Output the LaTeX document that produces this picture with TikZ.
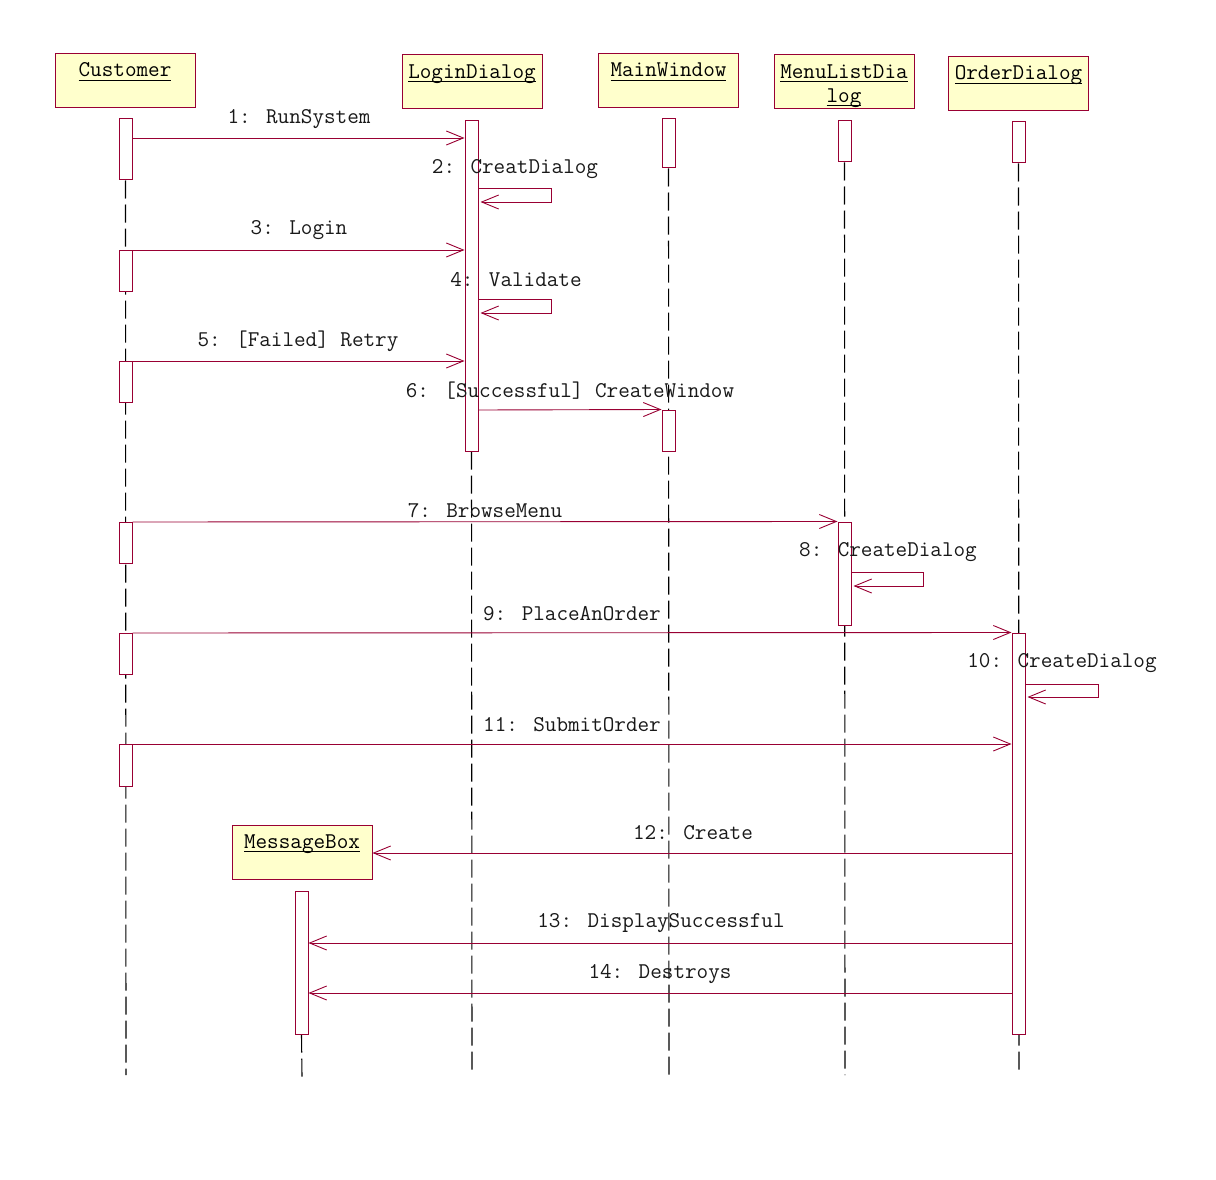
\documentclass[tikz,border=0pt]{standalone}
\usepackage{fontspec}
\usetikzlibrary{arrows.meta}
\definecolor{mred}{RGB}{153,0,51}
\definecolor{ybg}{HTML}{FFFFCC}
\definecolor{txt}{RGB}{25,25,25}
\newcommand\ulx[1]{\setbox0=\hbox{#1}\rlap{\rule[-3.5pt]{\wd0}{0.9pt}}\box0}
\newcommand\Act[4]{\node[act, minimum height={(#4-#3)*1pt}] (#1) at (#2,{(#3+#4)/2}) {};}
\begin{document}
\begin{tikzpicture}[x=1pt,y=-1pt,
  obj/.style={rectangle, draw=mred, fill=ybg, line width=1pt, minimum width=140pt, minimum height=54pt, inner sep=0pt},
  act/.style={rectangle, draw=mred, fill=white, line width=1pt, minimum width=13pt, inner sep=0pt},
  hdr/.style={anchor=base, inner sep=0pt, font=\ttfamily\fontsize{22.5pt}{26pt}\selectfont, text=black},
  lbl/.style={inner sep=0pt, font=\ttfamily\fontsize{22.5pt}{26pt}\selectfont, text=txt},
  life/.style={draw=black, line width=1.1pt, dash pattern=on 18pt off 6pt},
  msg/.style={draw=mred, line width=0.9pt, -{Straight Barb[length=17pt,width=14pt,line width=0.9pt]}}
]
\useasboundingbox[fill=white] (0,0) rectangle (1216,1180);

% object boxes
\node[obj] (cust) at (125,80.5) {};
\node[obj] (login) at (472,82) {};
\node[obj] (main) at (668.5,80.5) {};
\node[obj] (menu) at (844,82) {};
\node[obj] (order) at (1018.5,83.5) {};
\node[obj] (mbox) at (302,852) {};

\node[hdr] (custT) at ([yshift=-24pt]cust.north) {\ulx{Customer}};
\node[hdr] (loginT) at ([yshift=-24pt]login.north) {\ulx{LoginDialog}};
\node[hdr] (mainT) at ([yshift=-24pt]main.north) {\ulx{MainWindow}};
\node[hdr] (menuT) at ([yshift=-24pt]menu.north) {\ulx{MenuListDia}};
\node[hdr] (menuT2) at ([yshift=-48pt]menu.north) {\ulx{log}};
\node[hdr] (orderT) at ([yshift=-24pt]order.north) {\ulx{OrderDialog}};
\node[hdr] (mboxT) at ([yshift=-24pt]mbox.north) {\ulx{MessageBox}};

% lifeline ends
\coordinate (custE) at (126,1075);
\coordinate (loginE) at (472,1075);
\coordinate (mainE) at (669,1075);
\coordinate (menuE) at (845,1075);
\coordinate (orderE) at (1019,1075);
\coordinate (mboxE) at (302,1077);

% activations (first ones, for lifeline starts)
\Act{c1}{125.5}{119}{180}
\Act{l1}{471.5}{121}{451}
\Act{w1}{668.5}{119}{168}
\Act{m1}{844.5}{121}{162}
\Act{o1}{1018.5}{122}{163}
\Act{b1}{301.5}{891}{1034}

% lifelines
\draw[life] (c1.south) -- (custE);
\draw[life] (l1.south) -- (loginE);
\draw[life] (w1.south) -- (mainE);
\draw[life] (m1.south) -- (menuE);
\draw[life] (o1.south) -- (orderE);
\draw[life] (b1.south) -- (mboxE);

% activations on top of lifelines
\Act{c1}{125.5}{119}{180}
\Act{l1}{471.5}{121}{451}
\Act{w1}{668.5}{119}{168}
\Act{m1}{844.5}{121}{162}
\Act{o1}{1018.5}{122}{163}
\Act{b1}{301.5}{891}{1034}
\Act{c2}{125.5}{250}{291}
\Act{c3}{125.5}{361}{402}
\Act{c4}{125.5}{522}{563}
\Act{c5}{125.5}{633}{674}
\Act{c6}{125.5}{744}{786}
\Act{w2}{668.5}{410}{451}
\Act{m2}{844.5}{522}{625}
\Act{o2}{1018.5}{633}{1034}

% messages
\draw[msg] (c1.east |- 0,138) -- (l1.west |- 0,138);
\node[lbl] at (299,119) {1: RunSystem};

\draw[msg] (l1.east |- 0,188) -- ++(73,0) -- ++(0,14) -- ([xshift=2pt]l1.east |- 0,202);
\node[lbl] at (515,169) {2: CreatDialog};

\draw[msg] (c2.east |- 0,250) -- (l1.west |- 0,250);
\node[lbl] at (299,230) {3: Login};

\draw[msg] (l1.east |- 0,299) -- ++(73,0) -- ++(0,14) -- ([xshift=2pt]l1.east |- 0,313);
\node[lbl] at (516,280) {4: Validate};

\draw[msg] (c3.east |- 0,361) -- (l1.west |- 0,361);
\node[lbl] at (298,341) {5: [Failed] Retry};

\draw[msg] (l1.east |- 0,410) -- (w2.north west);
\node[lbl] at (570,391) {6: [Successful] CreateWindow};

\draw[msg] (c4.east |- 0,522) -- (m2.north west);
\node[lbl] at (485,511) {7: BrowseMenu};

\draw[msg] (m2.east |- 0,572) -- ++(72,0) -- ++(0,14) -- ([xshift=2pt]m2.east |- 0,586);
\node[lbl] at (888,552) {8: CreateDialog};

\draw[msg] (c5.east |- 0,633) -- (o2.north west);
\node[lbl] at (572,614) {9: PlaceAnOrder};

\draw[msg] (o2.east |- 0,684) -- ++(73,0) -- ++(0,13) -- ([xshift=2pt]o2.east |- 0,697);
\node[lbl] at (1062,663) {10: CreateDialog};

\draw[msg] (c6.east |- 0,744) -- (o2.west |- 0,744);
\node[lbl] at (572,725) {11: SubmitOrder};

\draw[msg] (o2.west |- 0,853) -- (mbox.east |- 0,853);
\node[lbl] at (693,833) {12: Create};

\draw[msg] (o2.west |- 0,943) -- (b1.east |- 0,943);
\node[lbl] at (661,923) {13: DisplaySuccessful};

\draw[msg] (o2.west |- 0,993) -- (b1.east |- 0,993);
\node[lbl] at (660,974) {14: Destroys};
\end{tikzpicture}
\end{document}
